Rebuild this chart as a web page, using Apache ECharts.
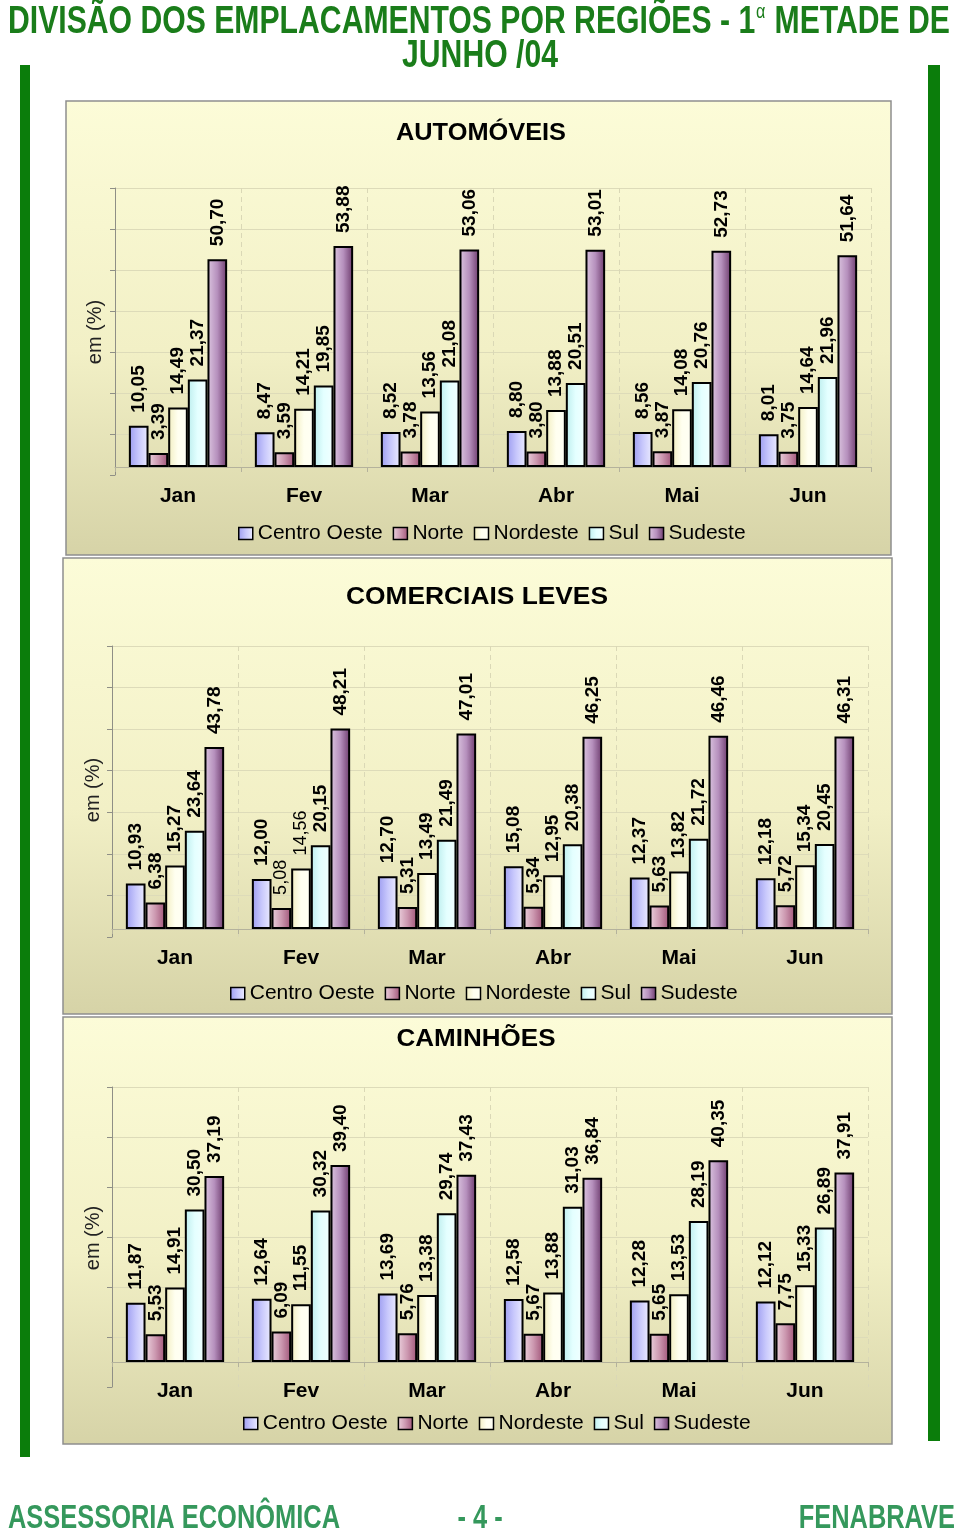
<!DOCTYPE html>
<html>
<head>
<meta charset="utf-8">
<script src="https://cdn.jsdelivr.net/npm/echarts@6/dist/echarts.min.js"></script>
<style>
html,body{margin:0;padding:0;background:#fff;}
#chart{width:960px;height:1537px;}
</style>
</head>
<body>
<div id="chart"></div>
<script>
// ---------- DATA ----------
const months = ['Jan', 'Fev', 'Mar', 'Abr', 'Mai', 'Jun'];
const regions = ['Centro Oeste', 'Norte', 'Nordeste', 'Sul', 'Sudeste'];

const autoCentroOeste = [10.05, 8.47, 8.52, 8.80, 8.56, 8.01];
const autoNorte       = [3.39, 3.59, 3.78, 3.80, 3.87, 3.75];
const autoNordeste    = [14.49, 14.21, 13.56, 13.88, 14.08, 14.64];
const autoSul         = [21.37, 19.85, 21.08, 20.51, 20.76, 21.96];
const autoSudeste     = [50.70, 53.88, 53.06, 53.01, 52.73, 51.64];

const levesCentroOeste = [10.93, 12.00, 12.70, 15.08, 12.37, 12.18];
const levesNorte       = [6.38, 5.08, 5.31, 5.34, 5.63, 5.72];
const levesNordeste    = [15.27, 14.56, 13.49, 12.95, 13.82, 15.34];
const levesSul         = [23.64, 20.15, 21.49, 20.38, 21.72, 20.45];
const levesSudeste     = [43.78, 48.21, 47.01, 46.25, 46.46, 46.31];

const caminCentroOeste = [11.87, 12.64, 13.69, 12.58, 12.28, 12.12];
const caminNorte       = [5.53, 6.09, 5.76, 5.67, 5.65, 7.75];
const caminNordeste    = [14.91, 11.55, 13.38, 13.88, 13.53, 15.33];
const caminSul         = [30.50, 30.32, 29.74, 31.03, 28.19, 26.89];
const caminSudeste     = [37.19, 39.40, 37.43, 36.84, 40.35, 37.91];

const chartTitles = ['AUTOMÓVEIS', 'COMERCIAIS LEVES', 'CAMINHÕES'];
const axisMax = [70, 70, 60];
const axisInterval = 10;
const seriesSets = [
  [autoCentroOeste, autoNorte, autoNordeste, autoSul, autoSudeste],
  [levesCentroOeste, levesNorte, levesNordeste, levesSul, levesSudeste],
  [caminCentroOeste, caminNorte, caminNordeste, caminSul, caminSudeste]
];
// labels drawn in regular weight in the original (chart index, series index, month index)
const lightLabels = [[1, 1, 1], [1, 2, 1]];

// ---------- LAYOUT ----------
const FONT = "'Liberation Sans', Arial, Helvetica, sans-serif";
const layouts = [
  {panel: [66, 101, 825, 454], titleCx: 481, titleY: 134, titleW: 170,
   left: 115, right: 89, barTop: 180, barBottom: 467, wallTop: 188, wallBottom: 475,
   emX: 95, emY: 332, legendLeft: 238, legendY: 531},
  {panel: [63, 558, 829, 456], titleCx: 477, titleY: 598, titleW: 262,
   left: 112, right: 92, barTop: 638, barBottom: 929, wallTop: 646, wallBottom: 937,
   emX: 93, emY: 790, legendLeft: 230, legendY: 991},
  {panel: [63, 1017, 829, 427], titleCx: 476, titleY: 1040, titleW: 159,
   left: 112, right: 92, barTop: 1062, barBottom: 1362, wallTop: 1087, wallBottom: 1387,
   emX: 93, emY: 1238, legendLeft: 243, legendY: 1421}
];

const G = (stops) => new echarts.graphic.LinearGradient(0, 0, 1, 0,
  stops.map((c, i) => ({offset: i / (stops.length - 1), color: c})));
const barFills = [
  G(['#9c9cf0', '#c8c8fc', '#ececff']),
  G(['#ecd2de', '#cc98b0', '#a05478']),
  G(['#f2eec0', '#fffff0', '#fffff4']),
  G(['#bdeeee', '#e4ffff', '#f2ffff']),
  G(['#dcc6e0', '#b690bd', '#6c3a6c'])
];

const measCanvas = document.createElement('canvas').getContext('2d');
function textW(txt, font) { measCanvas.font = font; return measCanvas.measureText(txt).width; }

const grids = [], xAxes = [], yAxes = [], series = [], legends = [], graphics = [];

layouts.forEach((L, ci) => {
  const max = axisMax[ci];
  grids.push({left: L.left, right: L.right, top: L.wallTop, height: L.wallBottom - L.wallTop});
  grids.push({left: L.left, right: L.right, top: L.barTop, height: L.barBottom - L.barTop});
  const gw = ci * 2, gb = ci * 2 + 1;
  xAxes.push({gridIndex: gw, type: 'category', data: months,
    axisLine: {show: false}, axisTick: {show: false}, axisLabel: {show: false},
    splitLine: {show: true, lineStyle: {color: '#dad8b6', type: [5, 4], width: 1}}});
  yAxes.push({gridIndex: gw, type: 'value', min: 0, max: max, interval: axisInterval,
    axisLine: {show: true, lineStyle: {color: '#8f8f86', width: 1}},
    axisTick: {show: true, length: 5, lineStyle: {color: '#8f8f86'}},
    axisLabel: {show: false},
    splitLine: {show: true, showMinLine: false, lineStyle: {color: '#dddbb9', width: 1}}});
  xAxes.push({gridIndex: gb, type: 'category', data: months,
    axisLine: {show: true, lineStyle: {color: '#b4b29c', width: 1}},
    axisTick: {show: true, length: 5, lineStyle: {color: '#b4b29c'}},
    axisLabel: {fontSize: 21, fontWeight: 'bold', color: '#000', fontFamily: FONT, margin: 19},
    splitLine: {show: false}});
  yAxes.push({gridIndex: gb, type: 'value', min: 0, max: max, interval: axisInterval, show: false,
    splitLine: {show: false}});

  seriesSets[ci].forEach((vals, si) => {
    series.push({
      type: 'bar', name: regions[si], xAxisIndex: gb, yAxisIndex: gb,
      barGap: '0%', barCategoryGap: '22%',
      itemStyle: {color: barFills[si], borderColor: '#000', borderWidth: 2},
      label: {show: true, position: 'top', distance: 13, rotate: 90, align: 'left',
        verticalAlign: 'middle', fontSize: 19, fontWeight: 'bold', color: '#000', fontFamily: FONT,
        formatter: (p) => p.value.toFixed(2).replace('.', ',')},
      data: vals.map((v, mi) => {
        const light = lightLabels.some(t => t[0] === ci && t[1] === si && t[2] === mi);
        return light ? {value: v, label: {fontWeight: 'normal', fontSize: 18}} : v;
      }),
      animation: false
    });
  });

  legends.push({left: L.legendLeft, top: L.legendY - 8, padding: 0, icon: 'rect', itemWidth: 14, itemHeight: 12,
    itemGap: 10, selectedMode: false, data: regions,
    itemStyle: {borderColor: '#000', borderWidth: 1.5},
    textStyle: {fontSize: 21, color: '#000', fontFamily: FONT}});

  const [px, py, pw, ph] = L.panel;
  graphics.push({type: 'rect', z: -10, shape: {x: px, y: py, width: pw, height: ph},
    style: {fill: new echarts.graphic.LinearGradient(0, 0, 0, 1, [
      {offset: 0, color: '#fcfcd8'}, {offset: 0.55, color: '#f2f0c6'}, {offset: 1, color: '#d6d3a7'}]),
      stroke: '#8e8e8e', lineWidth: 1.5}});
  const tFont = 'bold 23px ' + FONT;
  const ts = L.titleW / textW(chartTitles[ci], tFont);
  graphics.push({type: 'text', z: 5, x: L.titleCx, y: L.titleY, scaleX: ts,
    style: {text: chartTitles[ci], font: tFont, fill: '#000', align: 'center', verticalAlign: 'middle'}});
  graphics.push({type: 'text', z: 5, x: L.emX, y: L.emY, rotation: Math.PI / 2,
    style: {text: 'em (%)', font: '20px ' + FONT, fill: '#222', align: 'center', verticalAlign: 'middle'}});
});

// page decorations: green bars
graphics.push({type: 'rect', z: -10, shape: {x: 20, y: 65, width: 10, height: 1392}, style: {fill: '#0b7d0b'}});
graphics.push({type: 'rect', z: -10, shape: {x: 928, y: 65, width: 12, height: 1376}, style: {fill: '#0b7d0b'}});

// main title
const mFont = 'bold 39px ' + FONT;
const part1 = 'DIVISÃO DOS EMPLACAMENTOS POR REGIÕES - 1';
const part2 = ' METADE DE';
const supFont = '21px ' + FONT;
const w1 = textW(part1, mFont), wa = textW('α', supFont) + 2, w2 = textW(part2, mFont);
const ms = 942 / (w1 + wa + w2);
const titleColor = '#1a7d1a';
graphics.push({type: 'group', x: 8, y: 0, scaleX: ms, children: [
  {type: 'text', x: 0, y: 22, style: {text: part1, font: mFont, fill: titleColor, align: 'left', verticalAlign: 'middle'}},
  {type: 'text', x: w1 + 1, y: 12, style: {text: 'α', font: supFont, fill: titleColor, align: 'left', verticalAlign: 'middle'}},
  {type: 'text', x: w1 + wa, y: 22, style: {text: part2, font: mFont, fill: titleColor, align: 'left', verticalAlign: 'middle'}}
]});
graphics.push({type: 'text', x: 480, y: 56, scaleX: ms,
  style: {text: 'JUNHO /04', font: mFont, fill: titleColor, align: 'center', verticalAlign: 'middle'}});

// footer
const fFont = 'bold 34px ' + FONT;
const fs = 332 / textW('ASSESSORIA ECONÔMICA', fFont);
const footColor = '#35985c';
graphics.push({type: 'text', x: 8, y: 1519, scaleX: fs,
  style: {text: 'ASSESSORIA ECONÔMICA', font: fFont, fill: footColor, align: 'left', verticalAlign: 'middle'}});
graphics.push({type: 'text', x: 480, y: 1519, scaleX: fs,
  style: {text: '- 4 -', font: fFont, fill: footColor, align: 'center', verticalAlign: 'middle'}});
graphics.push({type: 'text', x: 955, y: 1519, scaleX: fs,
  style: {text: 'FENABRAVE', font: fFont, fill: footColor, align: 'right', verticalAlign: 'middle'}});

const chart = echarts.init(document.getElementById('chart'), null, {renderer: 'canvas'});
chart.setOption({
  animation: false,
  backgroundColor: '#ffffff',
  grid: grids, xAxis: xAxes, yAxis: yAxes, series: series, legend: legends,
  graphic: {elements: graphics}
});
</script>
</body>
</html>
